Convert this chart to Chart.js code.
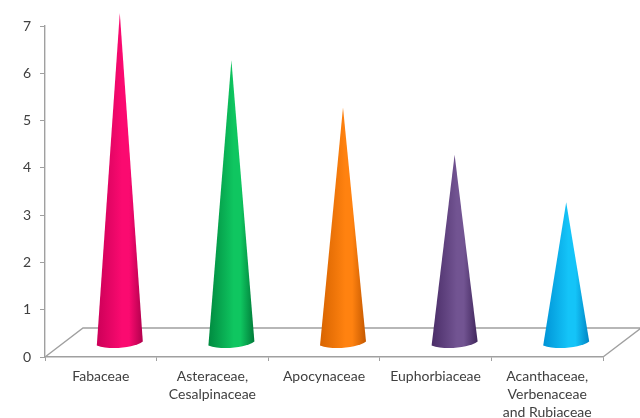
<!DOCTYPE html>
<html>
<head>
<meta charset="utf-8">
<style>
html, body { margin: 0; padding: 0; background: #fff; }
#wrap { width: 640px; height: 418px; }
canvas { filter: blur(0.4px); }
</style>
<script src="https://cdn.jsdelivr.net/npm/chart.js@4/dist/chart.umd.min.js"></script>
</head>
<body>
<div id="wrap"><canvas id="myChart"></canvas></div>
<script>
const families = [
    'Fabaceae',
    ['Asteraceae,', 'Cesalpinaceae'],
    'Apocynaceae',
    'Euphorbiaceae',
    ['Acanthaceae,', 'Verbenaceae', 'and Rubiaceae']
];
const counts = [7, 6, 5, 4, 3];
const y_ticks_max = 7;

// left edge, bright band, right edge
const cone_colors = [
    ['#cc0058', '#fb0a70', '#b0004c'],
    ['#008a40', '#0fc660', '#007a38'],
    ['#d86400', '#ff8210', '#c45800'],
    ['#4a2d68', '#725492', '#40265c'],
    ['#0093d6', '#14c4f8', '#0084c4']
];

const axis_color = '#a0a0a0';
const depth_x = 38;
const depth_y = 29;
const cone_half = 23;

// floor of the 3d box, behind the cones
const floorPlugin = {
    id: 'floor',
    beforeDatasetsDraw(chart) {
        const { ctx, chartArea: a } = chart;
        ctx.save();
        ctx.strokeStyle = axis_color;
        ctx.lineWidth = 1.4;
        ctx.beginPath();
        ctx.moveTo(a.left, a.bottom);
        ctx.lineTo(a.left + depth_x, a.bottom - depth_y);
        ctx.lineTo(a.right + depth_x, a.bottom - depth_y);
        ctx.lineTo(a.right, a.bottom);
        ctx.stroke();
        ctx.restore();
    }
};

// the bars are invisible, each one is drawn again as a cone
const conePlugin = {
    id: 'cones',
    afterDatasetsDraw(chart) {
        const { ctx } = chart;
        chart.getDatasetMeta(0).data.forEach((bar, i) => {
            const cx = bar.x + depth_x / 2;
            const tip_y = bar.y - 13;
            const base_y = bar.base - 13;
            const left = cx - cone_half;
            const right = cx + cone_half;

            const grad = ctx.createLinearGradient(left, 0, right, 0);
            grad.addColorStop(0, cone_colors[i][0]);
            grad.addColorStop(0.55, cone_colors[i][1]);
            grad.addColorStop(0.7, cone_colors[i][1]);
            grad.addColorStop(1, cone_colors[i][2]);

            ctx.save();
            ctx.fillStyle = grad;
            ctx.beginPath();
            ctx.moveTo(cx, tip_y);
            ctx.lineTo(right, base_y - 2);
            ctx.bezierCurveTo(right - 8, base_y + 4, left + 14, base_y + 7, left, base_y + 2);
            ctx.closePath();
            ctx.fill();
            ctx.restore();
        });
    }
};

new Chart(document.getElementById('myChart').getContext('2d'), {
    type: 'bar',
    data: {
        labels: families,
        datasets: [{
            data: counts,
            backgroundColor: 'rgba(0,0,0,0)',
            borderWidth: 0
        }]
    },
    options: {
        maintainAspectRatio: false,
        responsive: true,
        animation: false,
        layout: { padding: { top: 26, right: 37, left: 0, bottom: 0 } },
        plugins: { legend: { display: false }, tooltip: { enabled: false } },
        scales: {
            x: {
                afterFit(scale) { scale.height = 61; },
                border: { color: axis_color, width: 1.4 },
                grid: { drawOnChartArea: false, color: axis_color, tickLength: 4 },
                ticks: {
                    maxRotation: 0,
                    autoSkip: false,
                    color: '#404040',
                    padding: 7,
                    font: { family: 'Lato', size: 14, lineHeight: 1.27 }
                }
            },
            y: {
                min: 0,
                max: y_ticks_max,
                afterFit(scale) { scale.width = 45; },
                border: { color: axis_color, width: 1.4 },
                grid: { drawOnChartArea: false, color: axis_color, tickLength: 5 },
                ticks: {
                    stepSize: 1,
                    color: '#404040',
                    padding: 9,
                    font: { family: 'Lato', size: 14 }
                }
            }
        }
    },
    plugins: [floorPlugin, conePlugin]
});
</script>
</body>
</html>
